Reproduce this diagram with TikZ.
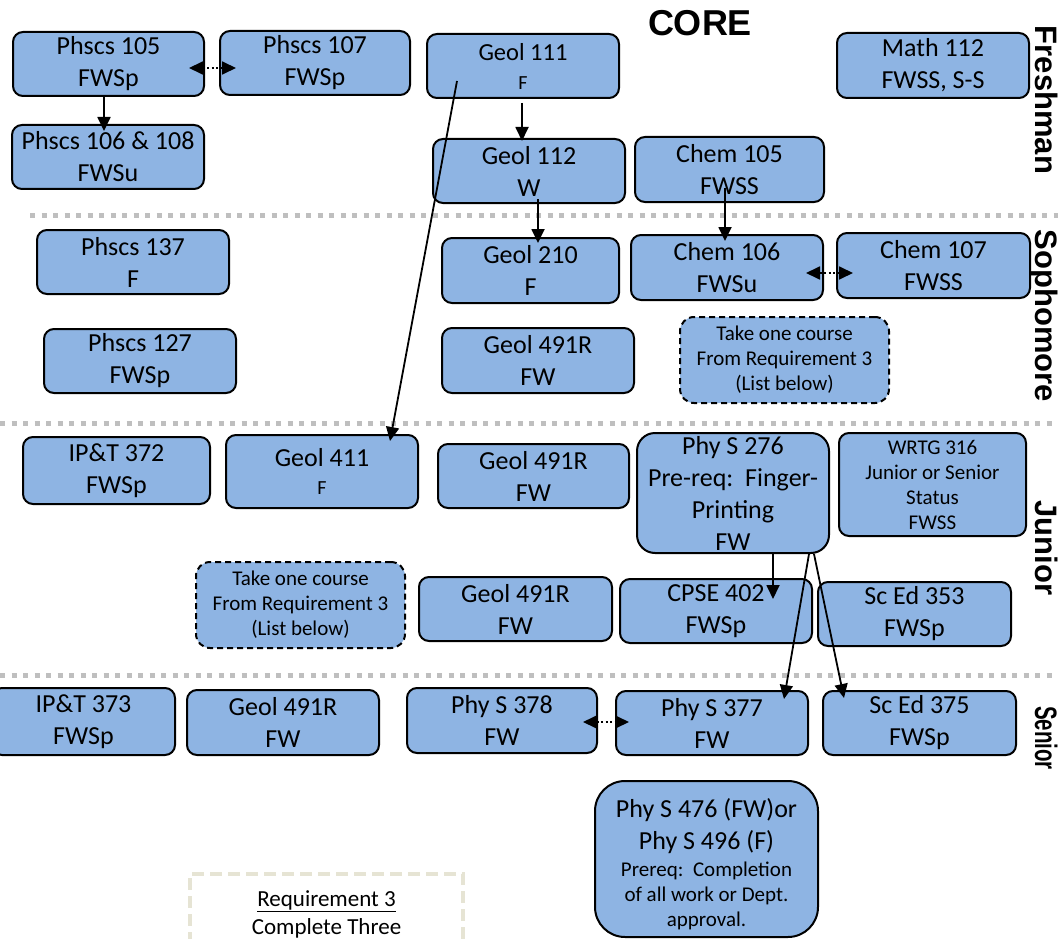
\documentclass[tikz,border=0pt]{standalone}
\usepackage{fontspec}
\usepackage{graphicx}
\setmainfont{Carlito}
\newfontfamily\labfont{Liberation Sans}
\usetikzlibrary{arrows.meta,calc}
\definecolor{boxblue}{HTML}{8EB4E3}
\definecolor{sepgray}{HTML}{BFBFBF}
\definecolor{beige}{HTML}{E6E4D4}
\newcommand\fbig{\fontsize{26}{32}\selectfont}
\newcommand\fsmall{\fontsize{21}{25}\selectfont}
\begin{document}
\lineskiplimit=-100pt
\begin{tikzpicture}[x=1pt,y=-1pt,
 crs/.style={draw=black,line width=2pt,fill=boxblue,rounded corners=10pt,inner sep=0pt,align=flush center,font=\fbig},
 opt/.style={crs,dash pattern=on 6pt off 4pt,font=\fsmall,rounded corners=14pt},
 wh/.style 2 args={minimum width=#1,minimum height=#2,text width=#1},
 arr/.style={line width=1.8pt,-{Triangle[length=14pt,width=13pt]}},
 darr/.style={line width=1.8pt,dash pattern=on 2pt off 2.5pt,{Triangle[length=14pt,width=13pt]}-{Triangle[length=14pt,width=13pt]}},
 sep/.style={draw=sepgray,line width=5pt,dash pattern=on 5pt off 6.5pt},
 yr/.style={rotate=-90,anchor=base,inner sep=0pt,font=\labfont\bfseries\fontsize{31}{31}\selectfont},
]
\useasboundingbox (0,0) rectangle (1058,939);

% separators
\draw[sep] (30,215) -- (1058,215);
\draw[sep] (0,423) -- (1058,423);
\draw[sep] (0,675) -- (1058,675);

% title and year labels
\node[inner sep=0pt,font=\labfont\bfseries\fontsize{36}{36}\selectfont] (core) at (700,23) {CORE};
\node[yr] (fresh) at (1035,100) {Freshman};
\node[yr] (soph) at (1035,316) {Sophomore};
\node[yr] (jun) at (1035,548) {Junior};
\node[yr] (sen) at (1035,738) {\scalebox{0.66}[1]{Senior}};

% Freshman
\node[crs,wh={191}{64}] (p105) at (108.5,64) {Phscs 105\\FWSp};
\node[crs,wh={190}{64}] (p107) at (315,63) {Phscs 107\\FWSp};
\node[crs,wh={192}{64}] (p106) at (108,157) {Phscs 106 \& 108\\FWSu};
\node[crs,wh={192}{64},font=\fontsize{20}{29}\selectfont] (g111) at (523,66) {{\fontsize{24.5}{29}\selectfont Geol 111}\\F};
\node[crs,wh={192}{65}] (m112) at (933,65.5) {Math 112\\FWSS, S-S};
\node[crs,wh={192}{64}] (g112) at (529,171) {Geol 112\\W};
\node[crs,wh={189}{65}] (c105) at (729.5,169.5) {Chem 105\\FWSS};

% Sophomore
\node[crs,wh={192}{64}] (p137) at (133,262) {Phscs 137\\F};
\node[crs,wh={192}{64}] (p127) at (140,361) {Phscs 127\\FWSp};
\node[crs,wh={177}{65}] (g210) at (530.5,270.5) {Geol 210\\F};
\node[crs,wh={192}{65}] (c106) at (727,267.5) {Chem 106\\FWSu};
\node[crs,wh={193}{65}] (c107) at (933.5,265.5) {Chem 107\\FWSS};
\node[crs,wh={192}{65}] (g491a) at (538,360.5) {Geol 491R\\FW};
\node[opt,wh={209}{86}] (take1) at (784.5,360) {Take one course\\From Requirement 3\\(List below)};

% Junior
\node[crs,wh={187}{67}] (ipt372) at (116.5,470.5) {IP\&T 372\\FWSp};
\node[crs,wh={192}{73},font=\fontsize{20}{28}\selectfont] (g411) at (322,471.5) {{\fontsize{26}{28}\selectfont Geol 411}\\F};
\node[crs,wh={191}{64}] (g491b) at (533.5,476) {Geol 491R\\FW};
\node[crs,wh={192}{120},rounded corners=18pt] (p276) at (733,493) {Phy S 276\\Pre-req:\ \ Finger-\\Printing\\FW};
\node[crs,wh={187}{103},font=\fsmall] (wrtg) at (932.5,484.5) {WRTG 316\\Junior or Senior\\Status\\FWSS};
\node[opt,wh={209}{86}] (take2) at (300.5,605) {Take one course\\From Requirement 3\\(List below)};
\node[crs,wh={193}{64}] (g491c) at (515.5,609) {Geol 491R\\FW};
\node[crs,wh={192}{64}] (cpse) at (716,611) {CPSE 402\\FWSp};
\node[crs,wh={193}{64}] (sced353) at (914.5,614) {Sc Ed 353\\FWSp};

% Senior
\node[crs,wh={183}{67}] (ipt373) at (83.5,721.5) {IP\&T 373\\FWSp};
\node[crs,wh={192}{65}] (g491d) at (283,722.5) {Geol 491R\\FW};
\node[crs,wh={190}{65}] (p378) at (502,720.5) {Phy S 378\\FW};
\node[crs,wh={192}{64}] (p377) at (712,723) {Phy S 377\\FW};
\node[crs,wh={193}{64}] (sced375) at (919.5,723) {Sc Ed 375\\FWSp};
\node[crs,wh={223}{156},rounded corners=30pt,font=\fsmall] (p476) at (706.5,859) {\rule{0pt}{29pt}{\fontsize{26}{25}\selectfont Phy S 476 (FW)or}\\[7pt]{\fontsize{26}{25}\selectfont Phy S 496 (F)}\\[2pt]Prereq:\ \ Completion\\of all work or Dept.\\approval.};

% Requirement 3
\node[draw=beige,line width=4pt,dash pattern=on 12pt off 6pt,minimum width=273,minimum height=80,inner sep=0pt,text width=273,align=flush center,font=\fontsize{23}{28}\selectfont] (req) at (326.5,914) {\underline{Requirement 3}\\Complete Three};

% connectors
\draw[arr] ($(p105.south)+(-4.5,0)$) -- ($(p106.north)+(-4,7)$);
\draw[darr] ($(p105.east)+(-16,4)$) -- ($(p107.west)+(17,5)$);
\draw[arr] ($(g111.south)+(-1,4)$) -- ($(g112.north)+(-7,3)$);
\draw[arr] ($(g112.south)+(9,-5)$) -- ($(g210.north)+(7.5,6)$);
\draw[arr] ($(c105.south)+(-4.5,-15)$) -- ($(c106.north)+(-2,7)$);
\draw[darr] ($(c106.east)+(-18,5.5)$) -- ($(c107.west)+(17,7.5)$);
\draw[arr] ($(g111.south west)+(31,-18)$) -- ($(g411.north east)+(-29,7)$);
\draw[arr] ($(p276.south)+(40,0)$) -- ($(cpse.north)+(57,21)$);
\draw[arr] ($(p276.south east)+(-21,0)$) -- ($(p377.north east)+(-25,9)$);
\draw[arr] ($(p276.south east)+(-16,0)$) -- ($(sced375.north west)+(22,8)$);
\draw[darr] ($(p378.east)+(-15,1.5)$) -- ($(p377.west)+(14,-1)$);
\end{tikzpicture}
\end{document}
